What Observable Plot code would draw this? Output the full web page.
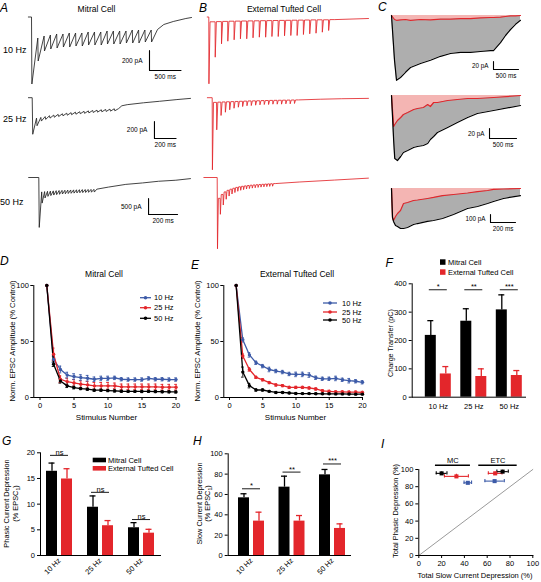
<!DOCTYPE html>
<html><head><meta charset="utf-8">
<script src="https://cdn.jsdelivr.net/npm/d3@7"></script>
<script src="https://cdn.jsdelivr.net/npm/@observablehq/plot@0.6"></script>
<style>
body{margin:0;background:#fff;}
#fig{position:relative;width:541px;height:582px;overflow:hidden;background:#fff;}
#fig>svg{position:absolute;left:0;top:0;}
</style></head><body><div id="fig"></div>
<script>
// ================= DATA =================
const freqLabels = ["10 Hz", "25 Hz", "50 Hz"];
const cellLabels = ["Mitral Cell", "External Tufted Cell"];

// A: mitral cell EPSC trains (inward amplitude, pA): level before each stimulus and peak
const mc10Pre  = [0, 210, 190, 180, 170, 170, 160, 160, 160, 150, 150, 150, 140, 140, 140, 140, 130, 130, 130, 130];
const mc10Peak = [670, 440, 340, 320, 310, 300, 300, 290, 290, 280, 280, 280, 270, 270, 270, 260, 260, 260, 250, 250];
const mc10TailT = [2000, 2100, 2250, 2450, 2540];
const mc10TailV = [125, 75, 45, 15, 5];
const mc10Window = [-50, 2540];

const mc25Pre  = [0, 240, 232, 222, 212, 204, 196, 189, 182, 176, 170, 165, 160, 155, 150, 146, 142, 138, 134, 130];
const mc25Peak = [430, 330, 275, 255, 240, 230, 221, 213, 206, 200, 194, 189, 184, 179, 174, 170, 166, 162, 158, 154];
const mc25TailT = [800, 830, 880, 1030, 1180, 1340, 1466];
const mc25TailV = [128, 95, 82, 60, 42, 22, 8];
const mc25Window = [-35, 1466];

const mc50Pre  = [0, 450, 440, 432, 425, 418, 412, 407, 402, 398, 394, 390, 387, 384, 381, 378, 376, 374, 372, 370];
const mc50Peak = [1560, 800, 640, 590, 565, 548, 535, 525, 516, 508, 500, 494, 488, 482, 477, 472, 467, 463, 459, 455];
const mc50TailT = [400, 480, 600, 715, 825, 945, 1046];
const mc50TailV = [365, 300, 215, 170, 118, 85, 35];
const mc50Window = [-70, 1046];

// B: external tufted cell EPSC trains
const etc10Pre  = [0, 48, 46, 44, 42, 41, 40, 39, 38, 37, 36, 35, 34, 33, 32, 31, 30, 29, 28, 28];
const etc10Peak = [668, 402, 268, 242, 228, 218, 218, 208, 202, 202, 195, 195, 188, 185, 185, 175, 168, 162, 152, 135];
const etc10TailT = [2000, 2535];
const etc10TailV = [26, 15];
const etc10Window = [-25, 2535];

const etc25Pre  = [0, 55, 52, 50, 48, 46, 44, 42, 40, 38, 37, 36, 34, 33, 32, 31, 30, 29, 28, 27];
const etc25Peak = [848, 378, 209, 171, 142, 124, 112, 104, 95, 92, 88, 84, 80, 80, 76, 76, 76, 72, 72, 68];
const etc25TailT = [800, 1000, 1200, 1447];
const etc25TailV = [26, 18, 12, 8];
const etc25Window = [-45, 1447];

const etc50Pre  = [0, 650, 530, 450, 400, 365, 335, 310, 290, 275, 262, 250, 240, 232, 225, 218, 212, 206, 200, 195];
const etc50Peak = [2228, 1150, 860, 680, 580, 515, 470, 430, 400, 380, 360, 345, 332, 320, 310, 300, 292, 285, 278, 272];
const etc50TailT = [400, 570, 810, 1043];
const etc50TailV = [190, 140, 80, 20];
const etc50Window = [-92, 1043];

// scale bars (ms, pA)
const barA10 = {dt: 500, dv: 200}, barA25 = {dt: 200, dv: 200}, barA50 = {dt: 200, dv: 500};
const barC10 = {dt: 500, dv: 20}, barC25 = {dt: 500, dv: 20}, barC50 = {dt: 200, dv: 100};

// C: averaged slow current envelopes (ms, pA): ETC (red) vs MC (black)
const c10T = [0, 60, 100, 180, 280, 380, 580, 780, 980, 1180, 1380, 1580, 1780, 1980, 2040, 2180, 2280, 2380, 2480, 2580];
const c10Red = [0, 10, 12, 11, 10, 12, 10, 11, 9, 9, 8, 8, 6, 5, 5, 4, 2.5, 1, 1, 0];
const c10Black = [0, 112, 162, 155, 142, 130, 120, 112, 102, 95, 92, 92, 90, 88, 88, 68, 50, 35, 22, 12];
const c25T = [0, 40, 60, 110, 170, 220, 300, 410, 480, 590, 670, 720, 780, 850, 1040, 1220, 1410, 1590, 1890, 2390];
const c25Red = [0, 62, 58, 50, 44, 38, 34, 28, 26, 24, 18, 22, 14, 14, 10, 8, 6, 6, 4, 0];
const c25Black = [0, 90, 126, 130, 122, 114, 110, 104, 102, 100, 96, 88, 82, 74, 64, 54, 44, 36, 30, 20];
const c50T = [0, 8, 16, 32, 48, 72, 96, 128, 176, 208, 288, 336, 408, 496, 608, 688, 768, 816, 896, 1032];
const c50Red = [0, 362, 400, 350, 312, 275, 188, 175, 150, 144, 125, 112, 88, 75, 56, 38, 25, 12, 6, 0];
const c50Black = [0, 362, 412, 462, 475, 500, 500, 488, 450, 438, 412, 400, 375, 325, 250, 225, 188, 162, 125, 88];

// D: mitral normalized EPSC amplitude (% control), stimulus 1..20
const d10 = [100, 34, 25, 20, 18.7, 17.8, 17.2, 16.3, 17, 17, 17.5, 16.3, 16, 16, 16, 17, 16.3, 16.3, 16, 16];
const d10e = [0, 3, 3, 2.5, 2.5, 2.5, 2.5, 2, 2, 2, 1.5, 1.5, 1.5, 1.5, 1.5, 1.5, 1.5, 1.5, 1.5, 1.5];
const d25 = [100, 38.6, 16.3, 14.2, 13, 11.9, 11.3, 10.4, 10.4, 10.4, 10.4, 9.5, 9.5, 9.5, 9.5, 9.5, 9.5, 9.2, 9.2, 9.2];
const d25e = [0, 5.5, 3, 3, 3, 3, 3, 3, 3, 3, 2.5, 2.5, 2.5, 2.5, 2.5, 2.5, 2.5, 2.5, 2.5, 2.5];
const d50 = [100, 29.7, 14.8, 10.4, 8.9, 8, 7.4, 6.5, 6.5, 6.2, 5.9, 5.6, 5.5, 5.5, 5.4, 5.5, 5.3, 5.2, 5.1, 5];
const d50e = [0, 2, 2, 1.5, 1.2, 1, 1, 1, 1, 1, 1, 1, 1, 1, 1, 1, 1, 1, 1, 1];
// E: external tufted cell
const e10 = [100, 51.5, 38, 31, 28, 25, 23.6, 22.7, 21, 20.6, 20.6, 20, 17.6, 16.7, 16.7, 17, 15.8, 15, 14.5, 13.6];
const e10e = [0, 2, 2, 1.5, 1.5, 2, 1.5, 1.5, 1.5, 2, 2, 2, 1.5, 1.5, 1.5, 2, 1.5, 2, 1.5, 1.5];
const e25 = [100, 37, 25, 18, 15.8, 13.3, 11.2, 10.6, 9, 9, 9, 8.5, 7.6, 6, 5.5, 5, 5, 4.8, 4.8, 4.5];
const e25e = [0, 2, 1.5, 1, 1, 1, 1, 1, 1, 1, 1, 1, 1, 1, 1, 1, 1, 1, 1, 1];
const e50 = [100, 22.7, 10.6, 6.7, 6.7, 5.5, 4.5, 4.5, 4, 3.6, 3.5, 3.5, 3.4, 3.3, 3.3, 3.2, 3.2, 3.1, 3, 3];
const e50e = [0, 4.5, 2, 1, 1, 0.8, 0.8, 0.7, 0.7, 0.7, 0.7, 0.7, 0.7, 0.7, 0.7, 0.7, 0.7, 0.7, 0.7, 0.7];
const stimTicks = [0, 5, 10, 15, 20];
const normTicks = [0, 50, 100];

// F: charge transfer (pC)
const fMC = [218, 268, 308], fMCe = [52, 44, 53];
const fETC = [82, 73, 76.5], fETCe = [26, 27, 17.5];
const fSig = ["*", "**", "***"], fSigY = [379, 379, 379];
const fTicks = [0, 100, 200, 300, 400];
// G: phasic current depression (% EPSC1)
const gMC = [16.4, 9.4, 5.4], gMCe = [1.6, 2.2, 1.0];
const gETC = [14.9, 5.8, 4.35], gETCe = [2.0, 1.0, 0.75];
const gSig = ["ns", "ns", "ns"], gSigY = [19.5, 12.3, 7.0];
const gTicks = [0, 5, 10, 15, 20];
// H: slow current depression (% EPSC1)
const hMC = [56.7, 67.2, 79.3], hMCe = [4, 10.8, 5.3];
const hETC = [33.8, 33.8, 26.6], hETCe = [8.8, 5.5, 4.5];
const hSig = ["*", "**", "***"], hSigY = [65.6, 82, 90];
const hTicks = [0, 20, 40, 60, 80, 100];
// I: total phasic vs total slow depression (%)
const iCell = ["MC", "MC", "MC", "ETC", "ETC", "ETC"];
const iFreq = ["10 Hz", "25 Hz", "50 Hz", "10 Hz", "25 Hz", "50 Hz"];
const iSlow = [43, 33, 20, 66.5, 67, 73.5];
const iSlowE = [3.3, 10.5, 4.7, 8.5, 6, 5];
const iPhasic = [84.5, 92, 95.5, 86.5, 95.5, 97.5];
const iPhasicE = [1.5, 2.5, 1.5, 1, 1.5, 1.5];
const iGroupName = ["MC", "ETC"], iGroupX1 = [14.6, 52.6], iGroupX2 = [45.3, 86.3], iGroupY = [105, 105];
const iTicks = [0, 20, 40, 60, 80, 100];
const unity = [0, 100];

// ================= LAYOUT / STYLE =================
const W = 541, H = 582;
const FONT = "'Liberation Sans', Arial, Helvetica, sans-serif";
const RED = "#e3262b", BLUE = "#3d5ba8", BLACK = "#000", PINK = "#f4b5b3", GREY = "#aeaeae";
const fig = document.getElementById("fig");

function add(opts) {
  const svg = Plot.plot({
    width: W, height: H,
    style: {background: "transparent", fontFamily: FONT, fontSize: "7.5px", color: "#000", overflow: "visible"},
    ...opts
  });
  fig.appendChild(svg);
}

// build a stimulus train trace from per-stimulus levels
function train(freq, pre, peak, tailT, tailV, win, peakDelay, decay) {
  const period = 1000 / freq;
  const pts = [{t: win[0], v: 0}];
  peak.forEach((p, i) => {
    const t0 = i * period;
    pts.push({t: t0, v: -pre[i]});
    pts.push({t: t0 + peakDelay, v: -p});
    const next = i + 1 < pre.length ? pre[i + 1] : tailV[0];
    if (decay) pts.push({t: t0 + decay, v: -next});
  });
  tailT.forEach((t, j) => pts.push({t, v: -tailV[j]}));
  return pts;
}

function scaleBar(b, fs = 6.5, gap = 7) {
  const pts = [{t: b.t, v: b.v}, {t: b.t, v: b.v - b.dv}, {t: b.t + b.dt, v: b.v - b.dv}];
  return [
    Plot.line(pts, {x: "t", y: "v", stroke: BLACK, strokeWidth: 1.1}),
    Plot.text([b], {x: "t", y: d => d.v - d.dv / 2, text: d => `${d.dv} pA`, textAnchor: "end", dx: -gap, fontSize: fs}),
    Plot.text([b], {x: d => d.t + d.dt / 2, y: d => d.v - d.dv, text: d => `${d.dt} ms`, dy: 6.5, fontSize: fs})
  ];
}

const rowLayout = {
  10: {k: 0.063, base: 16.5, ky: 0.1},
  25: {k: 0.108, base: 97.2, ky: 0.085},
  50: {k: 0.145, base: 177, ky: 0.032}
};
const originA = {10: 31, 25: 31.7, 50: 38.3};
const originB = {10: 208.3, 25: 211.7, 50: 216.7};
const barPosA = {10: {t: 1873, v: -335}, 25: {t: 1132, v: -280}, 50: {t: 757, v: -656}};

function tracePlot(pts, win, L, x0, color, extra = []) {
  const M = 3000;
  add({
    x: {axis: null, domain: win, range: [x0 + L.k * win[0], x0 + L.k * win[1]]},
    y: {axis: null, domain: [-M, 0], range: [L.base + L.ky * M, L.base]},
    marks: [Plot.line(pts, {x: "t", y: "v", stroke: color, strokeWidth: 0.85}), ...extra]
  });
}

// A
tracePlot(train(10, mc10Pre, mc10Peak, mc10TailT, mc10TailV, mc10Window, 6, 0), mc10Window, rowLayout[10], originA[10], "#222",
  scaleBar({...barA10, ...barPosA[10]}));
tracePlot(train(25, mc25Pre, mc25Peak, mc25TailT, mc25TailV, mc25Window, 5, 0), mc25Window, rowLayout[25], originA[25], "#222",
  scaleBar({...barA25, ...barPosA[25]}));
tracePlot(train(50, mc50Pre, mc50Peak, mc50TailT, mc50TailV, mc50Window, 3, 0), mc50Window, rowLayout[50], originA[50], "#222",
  scaleBar({...barA50, ...barPosA[50]}));
// B
tracePlot(train(10, etc10Pre, etc10Peak, etc10TailT, etc10TailV, etc10Window, 2, 20), etc10Window, rowLayout[10], originB[10], RED);
tracePlot(train(25, etc25Pre, etc25Peak, etc25TailT, etc25TailV, etc25Window, 2, 12), etc25Window, rowLayout[25], originB[25], RED);
tracePlot(train(50, etc50Pre, etc50Peak, etc50TailT, etc50TailV, etc50Window, 2, 8), etc50Window, rowLayout[50], originB[50], RED);

// C
const cLayout = [{k: 0.05, base: 15, ky: 0.4}, {k: 0.054, base: 95, ky: 0.5}, {k: 0.125, base: 188, ky: 0.08}];
const cBarPos = [{t: 2040, v: -115}, {t: 1815, v: -66}, {t: 792, v: -325}];
const cX0 = 391;
function cPlot(T, R, B, L, bar) {
  const data = T.map((t, i) => ({t, red: -R[i], black: -B[i]}));
  const t1 = T[T.length - 1];
  add({
    x: {axis: null, domain: [T[0], t1], range: [cX0, cX0 + L.k * (t1 - T[0])]},
    y: {axis: null, domain: [-1000, 0], range: [L.base + L.ky * 1000, L.base]},
    marks: [
      Plot.areaY(data, {x: "t", y1: () => 0, y2: "red", fill: PINK}),
      Plot.areaY(data, {x: "t", y1: "red", y2: "black", fill: GREY}),
      Plot.line(data, {x: "t", y: "red", stroke: RED, strokeWidth: 1.2}),
      Plot.line(data, {x: "t", y: "black", stroke: BLACK, strokeWidth: 1.2}),
      ...scaleBar(bar, 6.3, 5)
    ]
  });
}
cPlot(c10T, c10Red, c10Black, cLayout[0], {...barC10, ...cBarPos[0]});
cPlot(c25T, c25Red, c25Black, cLayout[1], {...barC25, ...cBarPos[1]});
cPlot(c50T, c50Red, c50Black, cLayout[2], {...barC50, ...cBarPos[2]});

// D, E
function depPlot(vals, errs, L) {
  const data = vals.flatMap((s, k) => s.map((v, i) => ({n: i + 1, v, e: errs[k][i], f: freqLabels[k]})));
  const err = data.filter(d => d.e > 0);
  add({
    marginLeft: L.axisX, marginRight: W - L.x1, marginTop: L.yTop, marginBottom: H - L.y0,
    x: {domain: [0, 20], range: [L.x0, L.x1], ticks: stimTicks, tickSize: 3, tickPadding: 2, label: null},
    y: {domain: [0, 100], range: [L.y0, L.yTop], ticks: normTicks, tickSize: 3, tickPadding: 2, label: null},
    color: {domain: freqLabels, range: [BLUE, RED, BLACK]},
    marks: [
      Plot.frame({anchor: "left"}),
      Plot.frame({anchor: "bottom"}),
      Plot.ruleX(err, {x: "n", y1: d => d.v - d.e, y2: d => d.v + d.e, stroke: "f", strokeWidth: 0.9}),
      Plot.ruleY(err, {y: d => d.v + d.e, x1: d => d.n - 0.2, x2: d => d.n + 0.2, stroke: "f", strokeWidth: 0.9}),
      Plot.ruleY(err, {y: d => d.v - d.e, x1: d => d.n - 0.2, x2: d => d.n + 0.2, stroke: "f", strokeWidth: 0.9}),
      Plot.line(data, {x: "n", y: "v", z: "f", stroke: "f", strokeWidth: 1.3}),
      Plot.dot(data, {x: "n", y: "v", fill: "f", r: 1.7})
    ]
  });
}
depPlot([d10, d25, d50], [d10e, d25e, d50e], {axisX: 33.3, x0: 39.5, x1: 175.5, y0: 397, yTop: 285});
depPlot([e10, e25, e50], [e10e, e25e, e50e], {axisX: 223.3, x0: 229, x1: 362, y0: 397, yTop: 285});

// F, G, H bar panels
const BW = 26, BARW = 11;
function barPanel(mc, mce, etc, etce, sig, sigY, ticks, yMax, L) {
  const rows = freqLabels.map((f, i) => ({f, mc: mc[i], mce: mce[i], etc: etc[i], etce: etce[i], s: sig[i], sy: sigY[i]}));
  const pin = 1 - BW / L.step;
  const off = (BW - BARW) / 2;
  const ins = BW - BARW;
  add({
    marginLeft: L.axisX, marginRight: W - L.xEnd, marginTop: L.yTop, marginBottom: H - L.y0,
    x: {type: "band", domain: freqLabels, range: [L.mid - 1.5 * L.step, L.mid + 1.5 * L.step], paddingInner: pin, paddingOuter: pin / 2, round: false,
        tickSize: 0, tickPadding: L.rot ? 4 : 6, tickRotate: L.rot, label: null},
    y: {domain: [0, yMax], range: [L.y0, L.yTop], ticks, tickSize: 3, tickPadding: 2.5, label: null},
    marks: [
      Plot.ruleX(rows, {x: "f", y1: "mc", y2: d => d.mc + d.mce, dx: -off, stroke: BLACK, strokeWidth: 1.3}),
      Plot.tickY(rows, {x: "f", y: d => d.mc + d.mce, insetLeft: 2.5, insetRight: ins + 2.5, stroke: BLACK, strokeWidth: 1.3}),
      Plot.ruleX(rows, {x: "f", y1: "etc", y2: d => d.etc + d.etce, dx: off, stroke: RED, strokeWidth: 1.3}),
      Plot.tickY(rows, {x: "f", y: d => d.etc + d.etce, insetLeft: ins + 2.5, insetRight: 2.5, stroke: RED, strokeWidth: 1.3}),
      Plot.barY(rows, {x: "f", y: "mc", fill: BLACK, insetRight: ins}),
      Plot.barY(rows, {x: "f", y: "etc", fill: RED, insetLeft: ins}),
      Plot.tickY(rows, {x: "f", y: "sy", insetLeft: 4, insetRight: 4, stroke: BLACK, strokeWidth: 0.9}),
      Plot.text(rows, {x: "f", y: "sy", text: "s", lineAnchor: "bottom", dy: -0.5, fontSize: 7.5}),
      Plot.frame({anchor: "left"}),
      Plot.frame({anchor: "bottom"})
    ]
  });
}
barPanel(fMC, fMCe, fETC, fETCe, fSig, fSigY, fTicks, 400, {axisX: 411.7, xEnd: 525, y0: 396.7, yTop: 283.3, mid: 473.3, step: 35.5, rot: 0});
barPanel(gMC, gMCe, gETC, gETCe, gSig, gSigY, gTicks, 20, {axisX: 40, xEnd: 160, y0: 555, yTop: 452.3, mid: 100, step: 41, rot: -45});
barPanel(hMC, hMCe, hETC, hETCe, hSig, hSigY, hTicks, 100, {axisX: 227.7, xEnd: 350, y0: 555, yTop: 453.3, mid: 291.5, step: 40.5, rot: -45});

// I
{
  const pts = iCell.map((c, i) => ({c, f: iFreq[i], x: iSlow[i], xe: iSlowE[i], y: iPhasic[i], ye: iPhasicE[i]}));
  const groups = iGroupName.map((g, i) => ({g, x1: iGroupX1[i], x2: iGroupX2[i], y: iGroupY[i]}));
  add({
    marginLeft: 418.3, marginRight: W - 532.3, marginTop: 469, marginBottom: H - 555,
    x: {domain: [0, 100], range: [418.3, 532.3], ticks: iTicks, tickSize: 3, tickPadding: 2, label: null},
    y: {domain: [0, 100], range: [555, 469], ticks: iTicks, tickSize: 3, tickPadding: 2.5, label: null},
    color: {domain: freqLabels, range: [BLUE, RED, BLACK]},
    marks: [
      Plot.line(unity.map(v => ({a: v, b: v})), {x: "a", y: "b", stroke: "#9a9a9a", strokeWidth: 1}),
      Plot.frame({anchor: "left"}),
      Plot.frame({anchor: "bottom"}),
      Plot.ruleY(pts, {y: "y", x1: d => d.x - d.xe, x2: d => d.x + d.xe, stroke: "f", strokeWidth: 1.1}),
      Plot.ruleX(pts, {x: d => d.x - d.xe, y1: d => d.y - 2, y2: d => d.y + 2, stroke: "f", strokeWidth: 1.1}),
      Plot.ruleX(pts, {x: d => d.x + d.xe, y1: d => d.y - 2, y2: d => d.y + 2, stroke: "f", strokeWidth: 1.1}),
      Plot.ruleX(pts, {x: "x", y1: d => d.y - d.ye, y2: d => d.y + d.ye, stroke: "f", strokeWidth: 1.1}),
      Plot.dot(pts, {x: "x", y: "y", fill: "f", symbol: "square", r: 2.3}),
      Plot.ruleY(groups, {y: "y", x1: "x1", x2: "x2", stroke: BLACK, strokeWidth: 1.4}),
      Plot.text(groups, {x: d => (d.x1 + d.x2) / 2, y: "y", text: "g", lineAnchor: "bottom", dy: -2, fontSize: 7.5})
    ]
  });
}

// ================= TEXT ANNOTATIONS =================
const ann = d3.select(fig).append("svg").attr("width", W).attr("height", H).style("font-family", FONT);
function T(s, x, y, o = {}) {
  const size = o.size || 7.5;
  const t = ann.append("text").attr("x", x).attr("y", y).attr("font-size", size)
    .attr("text-anchor", o.anchor || "start").attr("fill", "#000");
  if (o.italic) t.attr("font-style", "italic");
  if (o.rot) t.attr("transform", `rotate(-90 ${x} ${y})`);
  if (Array.isArray(s)) {
    s.forEach(([str, sub]) => {
      const ts = t.append("tspan").text(str);
      if (sub) ts.attr("font-size", size * 0.7).attr("dy", 2);
      else if (ts.node().previousSibling) ts.attr("dy", -2);
    });
  } else t.text(s);
}
// panel letters
[["A", 0, 11.5], ["B", 199, 11.5], ["C", 378, 11], ["D", 0, 265], ["E", 191, 269], ["F", 385.5, 267], ["G", 2, 445], ["H", 193, 445], ["I", 381, 448]]
  .forEach(([s, x, y]) => T(s, x, y, {size: 12, italic: true}));
// A/B titles and row labels
T(cellLabels[0], 96.5, 12, {size: 8.5, anchor: "middle"});
T(cellLabels[1], 284, 12, {size: 8.5, anchor: "middle"});
T(freqLabels[0], 3, 53, {size: 9});
T(freqLabels[1], 3, 121.5, {size: 9});
T(freqLabels[2], 0, 205, {size: 9});
// D / E
T(cellLabels[0], 104, 276.5, {size: 8.5, anchor: "middle"});
T(cellLabels[1], 297, 276.5, {size: 8.5, anchor: "middle"});
T("Norm. EPSC Amplitude (% Control)", 14.5, 341, {size: 7.7, anchor: "middle", rot: true});
T("Norm. EPSC Amplitude (% Control)", 199.5, 341, {size: 7.7, anchor: "middle", rot: true});
T("Stimulus  Number", 106.5, 420, {size: 8, anchor: "middle"});
T("Stimulus  Number", 295.5, 420, {size: 8, anchor: "middle"});
const legCol = [BLUE, RED, BLACK];
function lineLegend(x0, x1, ys, tx) {
  ys.forEach((y, i) => {
    ann.append("line").attr("x1", x0).attr("x2", x1).attr("y1", y).attr("y2", y).attr("stroke", legCol[i]).attr("stroke-width", 1.3);
    ann.append("circle").attr("cx", (x0 + x1) / 2).attr("cy", y).attr("r", 1.8).attr("fill", legCol[i]);
    T(freqLabels[i], tx, y + 2.7, {size: 7.5});
  });
}
lineLegend(140, 151, [297.7, 307.7, 318.3], 154);
lineLegend(323, 337, [303, 312, 320], 342);
// F
T("Charge Transfer (pC)", 393, 343, {size: 7.2, anchor: "middle", rot: true});
ann.append("rect").attr("x", 440).attr("y", 259.3).attr("width", 5.5).attr("height", 5.5).attr("fill", BLACK);
ann.append("rect").attr("x", 440).attr("y", 269.3).attr("width", 5.5).attr("height", 5.5).attr("fill", RED);
T(cellLabels[0], 448, 264.5, {size: 7.5});
T(cellLabels[1], 448, 274.5, {size: 7.5});
// G
T("Phasic Current Depression", 8.5, 503.5, {size: 7.4, anchor: "middle", rot: true});
T([["(% EPSC"], ["1", true], [")"]], 17.5, 503.5, {size: 7.4, anchor: "middle", rot: true});
ann.append("rect").attr("x", 92.7).attr("y", 457.7).attr("width", 13.3).attr("height", 4.6).attr("fill", BLACK);
ann.append("rect").attr("x", 92.7).attr("y", 466).attr("width", 13.3).attr("height", 4.6).attr("fill", RED);
T(cellLabels[0], 108, 462.7, {size: 7.5});
T(cellLabels[1], 108, 471, {size: 7.5});
// H
T("Slow Current Depression", 201.5, 503.5, {size: 7.4, anchor: "middle", rot: true});
T([["(% EPSC"], ["1", true], [")"]], 210, 503.5, {size: 7.4, anchor: "middle", rot: true});
// I
T("Total Phasic Depression (%)", 398, 511, {size: 7.5, anchor: "middle", rot: true});
T("Total Slow Current Depression (%)", 475, 578, {size: 7.5, anchor: "middle"});
</script></body></html>
